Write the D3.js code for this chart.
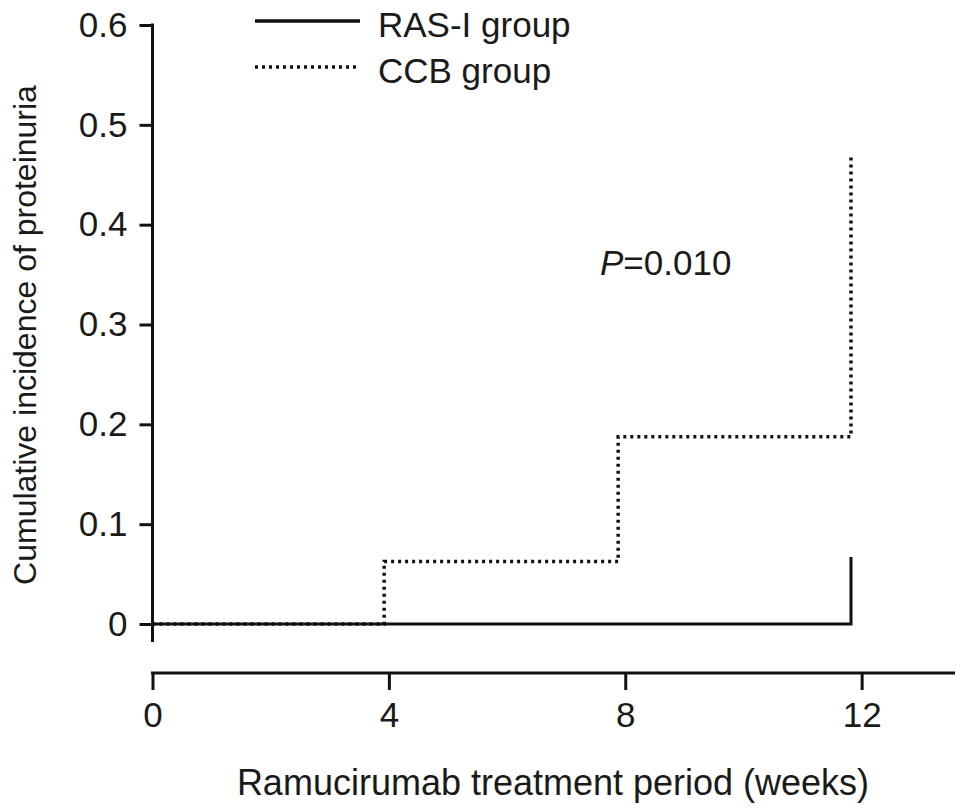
<!DOCTYPE html>
<html>
<head>
<meta charset="utf-8">
<script src="https://cdn.jsdelivr.net/npm/d3@7"></script>
<style>
  body { margin: 0; background: #fff; }
  text { font-family: "Liberation Sans", Arial, sans-serif; fill: #1a1a1a; }
</style>
</head>
<body>
<svg id="chart" width="969" height="810"></svg>
<script>
// step data (weeks, cumulative incidence)
const rasWeeks = [0, 11.82, 11.82]
const rasValues = [0, 0, 0.067]
const ccbWeeks = [0, 3.92, 3.92, 7.88, 7.88, 11.82, 11.82]
const ccbValues = [0, 0, 0.0625, 0.0625, 0.1875, 0.1875, 0.47]
const xTicks = [0, 4, 8, 12]
const yTicks = [0, 0.1, 0.2, 0.3, 0.4, 0.5, 0.6]
const legendLabels = ['RAS-I group', 'CCB group']

const svg = d3.select('#chart')
const fontSize = 35
const dots = '3,4'

let x = d3.scaleLinear().domain([0, 13.58]).range([152.5, 955])
let y = d3.scaleLinear().domain([0, 0.6]).range([624, 25])

// Y axis: line runs a bit past zero
let yAxis = d3.axisLeft(y)
    .tickValues(yTicks)
    .tickFormat(d => d === 0 ? '0' : d3.format('.1f')(d))
    .tickSize(13)
    .tickSizeOuter(0)
    .tickPadding(12)

let yG = svg.append('g')
    .attr('transform', `translate(${x(0)},0)`)
    .call(yAxis)
yG.select('.domain').remove()
yG.append('line')
  .attr('y1', y(0.6) - 1.5).attr('y2', 642)
  .attr('stroke', '#111').attr('stroke-width', 3)
yG.selectAll('.tick line').attr('stroke', '#111').attr('stroke-width', 3)
yG.selectAll('.tick text')
  .style('font-size', fontSize + 'px')
  .attr('fill', '#1a1a1a')

// X axis, offset below the plot
let xAxis = d3.axisBottom(x)
    .tickValues(xTicks)
    .tickSize(17)
    .tickSizeOuter(0)
    .tickPadding(12)

let xG = svg.append('g')
    .attr('transform', 'translate(0,673)')
    .call(xAxis)
xG.select('.domain').remove()
xG.append('line')
  .attr('x1', x(0) - 1.5).attr('x2', 955)
  .attr('stroke', '#111').attr('stroke-width', 3)
xG.selectAll('.tick line').attr('stroke', '#111').attr('stroke-width', 3)
xG.selectAll('.tick text')
  .style('font-size', fontSize + 'px')
  .attr('fill', '#1a1a1a')

let line = d3.line()
    .x(d => x(d[0]))
    .y(d => y(d[1]))

svg.append('path')
  .datum(d3.zip(ccbWeeks, ccbValues))
  .attr('d', line)
  .attr('fill', 'none')
  .attr('stroke', '#111')
  .attr('stroke-width', 3.5)
  .attr('stroke-dasharray', dots)

svg.append('path')
  .datum(d3.zip(rasWeeks, rasValues))
  .attr('d', line)
  .attr('fill', 'none')
  .attr('stroke', '#111')
  .attr('stroke-width', 3)

// Legend
let legend = svg.append('g').attr('class', 'legend')
legendLabels.forEach((lbl, i) => {
  let ly = 21 + i * 46
  legend.append('line')
    .attr('x1', 255).attr('x2', 360)
    .attr('y1', ly).attr('y2', ly)
    .attr('stroke', '#111')
    .attr('stroke-width', i === 0 ? 3.5 : 3.5)
    .attr('stroke-dasharray', i === 0 ? null : dots)
  legend.append('text')
    .attr('x', 378)
    .attr('y', ly + 16)
    .style('font-size', fontSize + 'px')
    .text(lbl)
})

// P value
let pText = svg.append('text')
    .attr('x', 600)
    .attr('y', 275)
    .style('font-size', fontSize + 'px')
pText.append('tspan').style('font-style', 'italic').text('P')
pText.append('tspan').text('=0.010')

// Axis titles
svg.append('text')
  .attr('text-anchor', 'middle')
  .attr('transform', `translate(36,335) rotate(-90)`)
  .style('font-size', '32px')
  .text('Cumulative incidence of proteinuria')

svg.append('text')
  .attr('text-anchor', 'middle')
  .attr('x', 553)
  .attr('y', 795)
  .style('font-size', '36px')
  .text('Ramucirumab treatment period (weeks)')
</script>
</body>
</html>
